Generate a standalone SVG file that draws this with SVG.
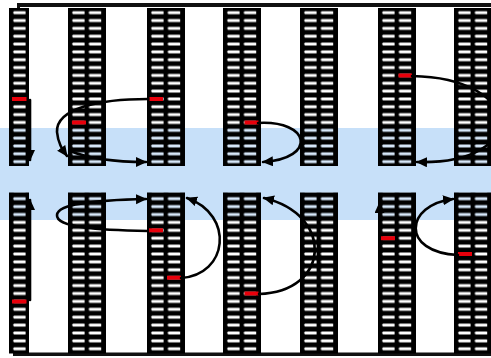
<svg xmlns="http://www.w3.org/2000/svg" xmlns:xlink="http://www.w3.org/1999/xlink" width="491" height="358" viewBox="0 0 491 358">
<style>
.col{fill:#000}
.red{fill:#e8000b}
.bar{fill:#111}
.conn path{fill:none;stroke:#000;stroke-width:2.6;stroke-linecap:round}
.tint{mix-blend-mode:multiply}
</style>
<defs>
<pattern id="pt" patternUnits="userSpaceOnUse" x="0" y="8.78" width="16.6" height="7.84"><rect x="4.4" y="2.4" width="12.3" height="3" rx="0.8" fill="#fff"/></pattern>
<pattern id="pb" patternUnits="userSpaceOnUse" x="0" y="194.75" width="16.6" height="7.9"><rect x="4.4" y="2.45" width="12.3" height="3" rx="0.8" fill="#fff"/></pattern>
<g id="k1t"><rect class="col" x="0" y="8" width="20" height="158"/><rect x="0" y="8" width="20" height="158" fill="url(#pt)"/></g>
<g id="k2t"><rect class="col" x="0" y="8" width="38" height="158"/><rect x="0" y="8" width="34" height="158" fill="url(#pt)"/></g>
<g id="k1b"><rect class="col" x="0" y="192.5" width="20" height="161"/><rect x="0" y="192.5" width="20" height="161" fill="url(#pb)"/></g>
<g id="k2b"><rect class="col" x="0" y="192.5" width="38" height="161"/><rect x="0" y="192.5" width="34" height="161" fill="url(#pb)"/></g>
<marker id="ah" markerUnits="userSpaceOnUse" markerWidth="14" markerHeight="12" refX="10" refY="5" orient="auto"><path d="M0,0 L11,5 L0,10 Z" fill="#000"/></marker>
</defs>
<rect x="0" y="0" width="491" height="358" fill="#fff"/>
<rect x="0" y="128" width="491" height="92" fill="#eef8ff"/>
<g id="frame">
<rect class="bar" x="17" y="3" width="474" height="4"/>
<rect class="bar" x="17" y="3" width="3" height="6"/>
<rect class="bar" x="13" y="352.5" width="478" height="3.5"/>
</g>
<g id="colA-top"><use href="#k1t" x="9"/><rect class="red" x="12" y="97" width="14.5" height="4"/></g>
<g id="colB-top"><use href="#k2t" x="68"/><rect class="red" x="72" y="120.5" width="14" height="4"/></g>
<g id="colC-top"><use href="#k2t" x="147"/><rect class="red" x="149.5" y="97" width="13.5" height="4"/></g>
<g id="colD-top"><use href="#k2t" x="223"/><rect class="red" x="244.5" y="120.5" width="14" height="4"/></g>
<g id="colE-top"><use href="#k2t" x="300"/></g>
<g id="colF-top"><use href="#k2t" x="378"/><rect class="red" x="398.5" y="73.5" width="13.5" height="4"/></g>
<g id="colG-top"><use href="#k2t" x="454"/></g>
<g id="colA-bot"><use href="#k1b" x="9"/><rect class="red" x="12" y="299.5" width="14.5" height="4"/></g>
<g id="colB-bot"><use href="#k2b" x="68"/></g>
<g id="colC-bot"><use href="#k2b" x="147"/><rect class="red" x="149" y="228.3" width="14" height="4"/><rect class="red" x="167" y="275.7" width="14" height="4"/></g>
<g id="colD-bot"><use href="#k2b" x="223"/><rect class="red" x="244.5" y="291.5" width="14" height="4"/></g>
<g id="colE-bot"><use href="#k2b" x="300"/></g>
<g id="colF-bot"><use href="#k2b" x="378"/><rect class="red" x="381" y="236.2" width="14" height="4"/></g>
<g id="colG-bot"><use href="#k2b" x="454"/><rect class="red" x="458" y="252" width="14" height="4"/></g>
<rect class="tint" x="0" y="128" width="491" height="92" fill="#d6e7f9"/>
<g id="connectors" class="conn">
<path d="M30,100 L30,160" marker-end="url(#ah)"/>
<path d="M148,99 C100,99 56,108 57,132 C58,143 62,149 67,156" marker-end="url(#ah)"/>
<path d="M70,151 C90,159 120,162 146,162" marker-end="url(#ah)"/>
<path d="M258,123 C310,120 318,158 263,162" marker-end="url(#ah)"/>
<path d="M412,76 C525,78 530,165 417,162" marker-end="url(#ah)"/>
<path d="M30,300 L30,200" marker-end="url(#ah)"/>
<path d="M148,231 C100,230 56,228 57,215 C58,203 100,200 146,199" marker-end="url(#ah)"/>
<path d="M181,278 C228,275 235,215 187,198" marker-end="url(#ah)"/>
<path d="M259,294 C330,292 335,215 264,198" marker-end="url(#ah)"/>
<path d="M458,255 C400,252 405,205 453,199" marker-end="url(#ah)"/>
<path d="M379.5,238 L379.5,203" marker-end="url(#ah)"/>
</g>
</svg>
